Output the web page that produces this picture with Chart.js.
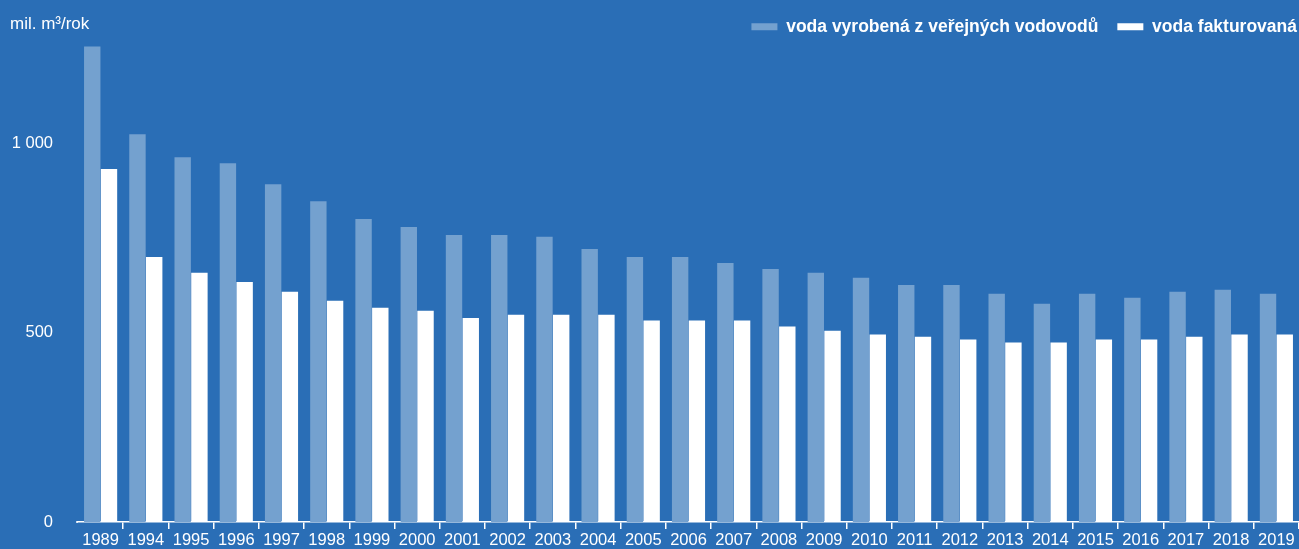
<!DOCTYPE html>
<html>
<head>
<meta charset="utf-8">
<script src="https://cdn.jsdelivr.net/npm/chart.js@4.4.1/dist/chart.umd.min.js"></script>
<style>
  html, body { margin: 0; padding: 0; background: #2a6eb6; }
  #wrap { width: 1299px; height: 549px; position: relative; }
</style>
</head>
<body>
<div id="wrap"><canvas id="chartCanvas"></canvas></div>
<script>
// roky
const years = ['1989', '1994', '1995', '1996', '1997', '1998', '1999', '2000', '2001', '2002',
  '2003', '2004', '2005', '2006', '2007', '2008', '2009', '2010', '2011', '2012',
  '2013', '2014', '2015', '2016', '2017', '2018', '2019'];

// mil. m3/rok
const vyrobena = [1255, 1024, 963, 947, 892, 847, 800, 779, 758, 758,
  753, 721, 700, 700, 684, 668, 658, 645, 626, 626,
  603, 576, 603, 592, 608, 613, 603];
const fakturovana = [932, 700, 658, 634, 608, 584, 566, 558, 539, 547,
  547, 547, 532, 532, 532, 516, 505, 495, 489, 482,
  474, 474, 482, 482, 489, 495, 495];

const yTicks = [0, 500, 1000];
const unitLabel = 'mil. m³/rok';

const fontFamily = '"Liberation Sans", Arial, Helvetica, sans-serif';

const unitPlugin = {
  id: 'unitLabel',
  afterLayout(chart) {
    // legenda az k pravemu okraji a trochu vys
    const lg = chart.legend;
    if (lg) {
      lg.left += 17; lg.right += 17;
      lg.top -= 3; lg.bottom -= 3;
    }
  },
  afterDraw(chart) {
    const ctx = chart.ctx;
    ctx.save();
    ctx.fillStyle = '#ffffff';
    ctx.font = '17px ' + fontFamily;
    ctx.textAlign = 'left';
    ctx.textBaseline = 'middle';
    ctx.fillText(unitLabel, 10, 24);
    // osa zacina kousek vlevo od prvni kategorie
    const x = chart.scales.x;
    ctx.strokeStyle = '#ffffff';
    ctx.lineWidth = 1.5;
    ctx.beginPath();
    ctx.moveTo(76, x.top);
    ctx.lineTo(x.left, x.top);
    ctx.stroke();
    ctx.restore();
  }
};

const fmt = v => String(v).replace(/\B(?=(\d{3})+(?!\d))/g, ' ');

new Chart(document.getElementById('chartCanvas'), {
  type: 'bar',
  data: {
    labels: years,
    datasets: [{
      label: 'voda vyrobená z veřejných vodovodů',
      data: vyrobena,
      backgroundColor: '#74a1cf',
      clip: false
    }, {
      label: 'voda fakturovaná',
      data: fakturovana,
      backgroundColor: '#ffffff',
      clip: false
    }]
  },
  options: {
    responsive: true,
    maintainAspectRatio: false,
    animation: false,
    layout: { padding: { left: 0, right: 0, top: 2, bottom: 0 } },
    datasets: { bar: { barPercentage: 0.98, categoryPercentage: 0.74 } },
    plugins: {
      tooltip: { enabled: false },
      legend: {
        position: 'top',
        align: 'end',
        labels: {
          color: '#ffffff',
          boxWidth: 26,
          boxHeight: 7,
          padding: 19,
          font: { family: fontFamily, size: 17.5, weight: 'bold' }
        }
      }
    },
    scales: {
      x: {
        grid: {
          offset: true,
          drawOnChartArea: false,
          tickLength: 7,
          lineWidth: 1.5,
          color: c => (c.index === 0 || c.index === years.length) ? 'rgba(0,0,0,0)' : '#ffffff'
        },
        border: { display: true, color: '#ffffff', width: 1.5 },
        ticks: {
          color: '#ffffff',
          padding: 1,
          maxRotation: 0,
          autoSkip: false,
          font: { family: fontFamily, size: 16.5 }
        },
        afterFit(scale) { scale.height = 23; }
      },
      y: {
        min: 0,
        max: 1250,
        grid: { display: false },
        border: { display: false },
        afterBuildTicks(scale) { scale.ticks = yTicks.map(v => ({ value: v })); },
        afterFit(scale) { scale.width = 78; },
        ticks: {
          color: '#ffffff',
          padding: 17,
          font: { family: fontFamily, size: 16.5 },
          callback: v => fmt(v)
        }
      }
    }
  },
  plugins: [unitPlugin]
});
</script>
</body>
</html>
